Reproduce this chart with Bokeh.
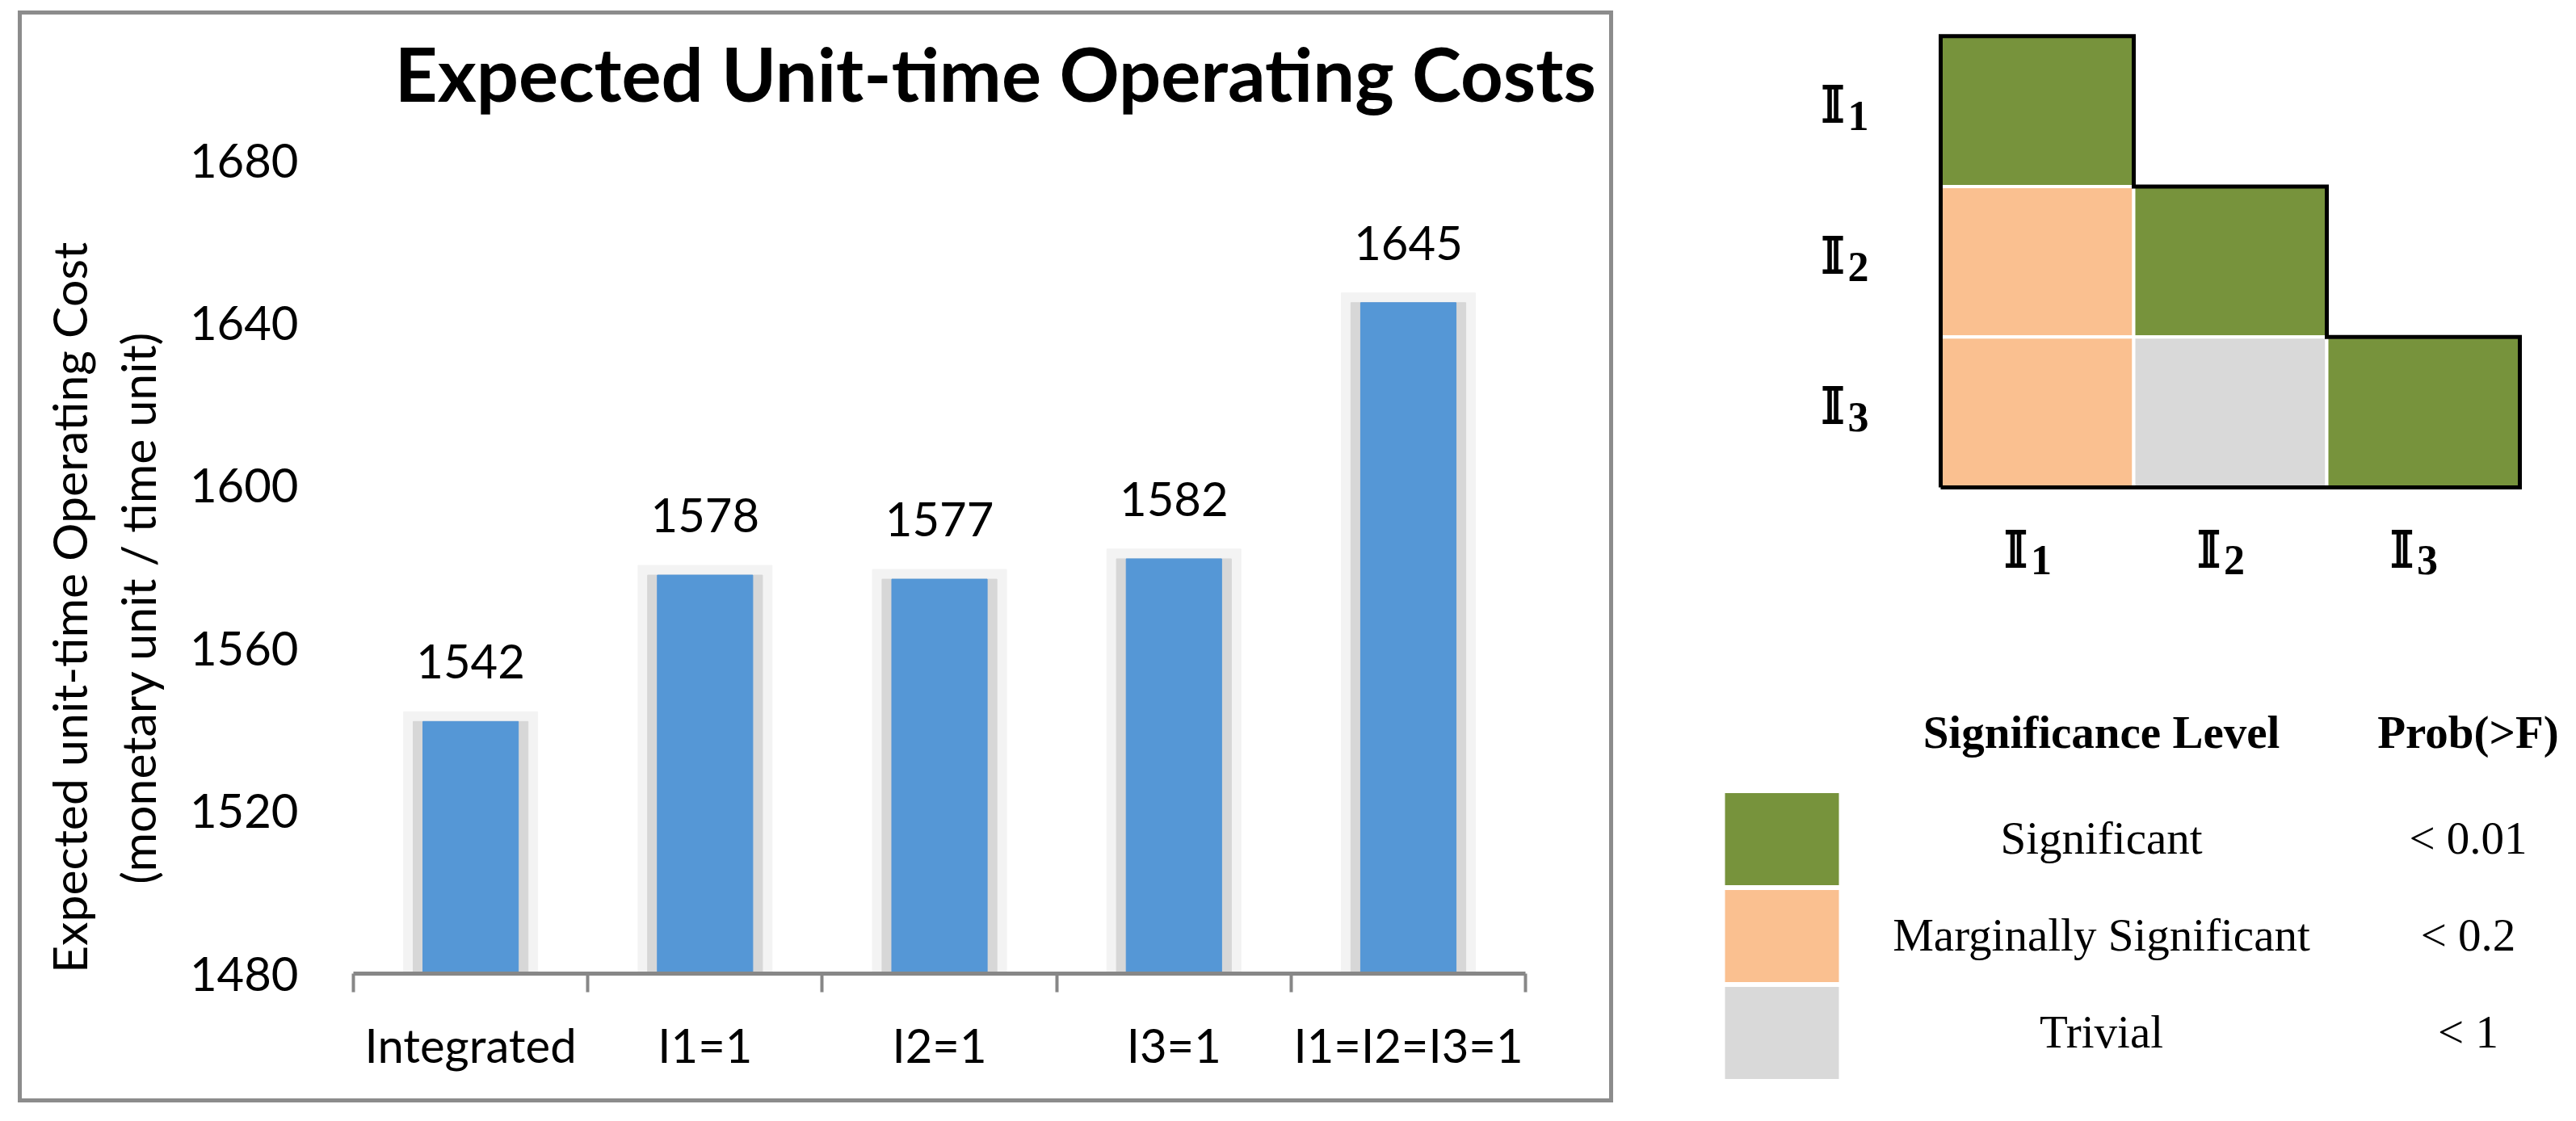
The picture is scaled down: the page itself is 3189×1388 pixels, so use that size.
import math
from bokeh.plotting import figure
from bokeh.models import Range1d, FixedTicker
from bokeh.layouts import row, column
from bokeh.embed import file_html
from bokeh.resources import INLINE
from bokeh.core.properties import value

# ---------------- data ----------------
categories = ["Integrated", "I1=1", "I2=1", "I3=1", "I1=I2=I3=1"]
costs = [1542, 1578, 1577, 1582, 1645]
y_ticks = [1480, 1520, 1560, 1600, 1640, 1680]
y_base = 1480

title_text = "Expected Unit-time Operating Costs"
ylabel_lines = ["Expected unit-time Operating Cost", "(monetary unit / time unit)"]

factor_subs = ["1", "2", "3"]
hm_rows = [1, 2, 2, 3, 3, 3]
hm_cols = [1, 1, 2, 1, 2, 3]
hm_level = ["Significant", "Marginally Significant", "Significant",
            "Marginally Significant", "Trivial", "Significant"]

levels = ["Significant", "Marginally Significant", "Trivial"]
probs = ["< 0.01", "< 0.2", "< 1"]
level_colors = ["#77933C", "#FAC090", "#D9D9D9"]
legend_head = ["Significance Level", "Prob(>F)"]

CAL = value("Lato")
SERIF = value("Liberation Serif")

# ---------------- left: y-axis title strip (frame aligned with the bar chart frame) ----------------
lab = figure(width=193, height=1342, x_range=Range1d(0, 193), y_range=Range1d(0, 1187),
             output_backend="svg", toolbar_location=None,
             min_border_left=0, min_border_right=0, min_border_top=0, min_border_bottom=155)
lab.axis.visible = False
lab.grid.visible = False
lab.outline_line_color = None
lab.text(x=[58, 143], y=[453, 453], text=ylabel_lines, angle=math.pi / 2,
         text_align="center", text_baseline="middle", text_font=CAL,
         text_font_size="59px", text_color="black")

# ---------------- left: bar chart ----------------
n = len(categories)
xc = [i + 0.5 for i in range(n)]
x_right = 5.358     # frame runs on to the panel edge so the title fits
y_top = 1715.75     # head-room above the last tick for the chart title

p = figure(width=1772, height=1342, x_range=Range1d(0, x_right), y_range=Range1d(y_ticks[0], y_top),
           output_backend="svg", toolbar_location=None,
           min_border_left=217, min_border_right=0, min_border_top=0, min_border_bottom=155)
p.outline_line_color = None
p.grid.visible = False
p.background_fill_color = "white"
p.border_fill_color = "white"

# chart title
p.text(x=[2.739], y=[1693.7], text=[title_text], text_align="center", text_baseline="alphabetic",
       y_offset=-39, text_font=CAL, text_font_style="bold", text_font_size="92px",
       text_color="black")

# soft shadow behind bars
p.vbar(x=xc, top=[c + 2.4 for c in costs], bottom=y_base, width=0.572, color="#f3f3f3")
p.vbar(x=xc, top=costs, bottom=y_base, width=0.49, color="#d7d7d7")
p.vbar(x=xc, top=costs, bottom=y_base, width=0.407, color="#5597d6")

p.text(x=xc, y=costs, text=[str(c) for c in costs], text_align="center",
       text_baseline="alphabetic", y_offset=-74, text_font=CAL,
       text_font_size="58px", text_color="black")

xa = p.xaxis[0]
xa.bounds = (0, n)
xa.ticker = FixedTicker(ticks=xc, minor_ticks=list(range(n + 1)))
xa.major_label_overrides = {x: c for x, c in zip(xc, categories)}
xa.major_tick_out = 0
xa.major_tick_in = 0
xa.minor_tick_out = 23
xa.minor_tick_in = 0
xa.minor_tick_line_color = "#878787"
xa.minor_tick_line_width = 4
xa.axis_line_color = "#878787"
xa.axis_line_width = 5
xa.major_label_text_font = "Lato"
xa.major_label_text_font_size = "58px"
xa.major_label_text_color = "black"
xa.major_label_standoff = 30

ya = p.yaxis[0]
ya.ticker = FixedTicker(ticks=y_ticks)
ya.axis_line_color = None
ya.major_tick_line_color = None
ya.minor_tick_line_color = None
ya.major_label_text_font = "Lato"
ya.major_label_text_font_size = "58px"
ya.major_label_text_color = "black"
ya.major_label_standoff = 62

left_panel = row(lab, p, spacing=0, margin=(18, 8, 12, 27),
                 styles={"outline": "5px solid #8c8c8c"})

# ---------------- right top: significance triangle ----------------
k = len(factor_subs)
h = figure(width=1173, height=740, x_range=Range1d(-1.682, 3.226), y_range=Range1d(-0.735, 3.237),
           output_backend="svg", toolbar_location=None, min_border=0)
h.axis.visible = False
h.grid.visible = False
h.outline_line_color = None

cx = [c - 0.5 for c in hm_cols]
cy = [k - r + 0.5 for r in hm_rows]
cell_colors = [level_colors[levels.index(l)] for l in hm_level]
h.rect(x=cx, y=cy, width=1, height=1, fill_color=cell_colors, line_color="white", line_width=4)

sx, sy = [0, 0], [0, k]
for j in range(1, k + 1):
    sx += [j, j]
    sy += [k - j + 1, k - j]
sx.append(0)
sy.append(0)
h.line(sx, sy, line_color="black", line_width=5, line_join="miter")

row_y = [k - i + 0.5 for i in range(1, k + 1)]
lab_gap = 0.49
h.text(x=[-lab_gap] * k, y=row_y, text=["𝕀"] * k, text_align="right", text_baseline="alphabetic",
       x_offset=-2, y_offset=-8, text_font=value("DejaVu Serif"), text_font_style="bold",
       text_font_size="62px", text_color="black")
h.text(x=[-lab_gap] * k, y=row_y, text=factor_subs, text_align="left", text_baseline="alphabetic",
       x_offset=2, y_offset=6, text_font=SERIF, text_font_style="bold",
       text_font_size="52px", text_color="black")
col_x = [j - 0.5 for j in range(1, k + 1)]
h.text(x=col_x, y=[-0.413] * k, text=["𝕀"] * k, text_align="right", text_baseline="alphabetic",
       x_offset=-12, text_font=value("DejaVu Serif"), text_font_style="bold",
       text_font_size="62px", text_color="black")
h.text(x=col_x, y=[-0.413] * k, text=factor_subs, text_align="left", text_baseline="alphabetic",
       x_offset=-8, y_offset=13, text_font=SERIF, text_font_style="bold",
       text_font_size="52px", text_color="black")

# ---------------- right bottom: legend table ----------------
g = figure(width=1173, height=632, x_range=Range1d(0, 1173), y_range=Range1d(2.779, -2.4875),
           output_backend="svg", toolbar_location=None, min_border=0)
g.axis.visible = False
g.grid.visible = False
g.outline_line_color = None

idx = list(range(len(levels)))
g.rect(x=[205.5] * len(levels), y=idx, width=141, height=0.95, fill_color=level_colors, line_color=None)
g.text(x=[601] * len(levels), y=idx, text=levels, text_align="center", text_baseline="alphabetic",
       y_offset=-2, text_font=SERIF, text_font_size="57px", text_color="black")
g.text(x=[1055] * len(levels), y=idx, text=probs, text_align="center", text_baseline="alphabetic",
       y_offset=-2, text_font=SERIF, text_font_size="57px", text_color="black")
g.text(x=[601, 1055], y=[-1.107, -1.107], text=legend_head, text_align="center",
       text_baseline="alphabetic", text_font=SERIF, text_font_style="bold",
       text_font_size="57px", text_color="black")

layout = row(left_panel, column(h, g, spacing=0), spacing=0)
open("out.html", "w").write(file_html(layout, INLINE))
